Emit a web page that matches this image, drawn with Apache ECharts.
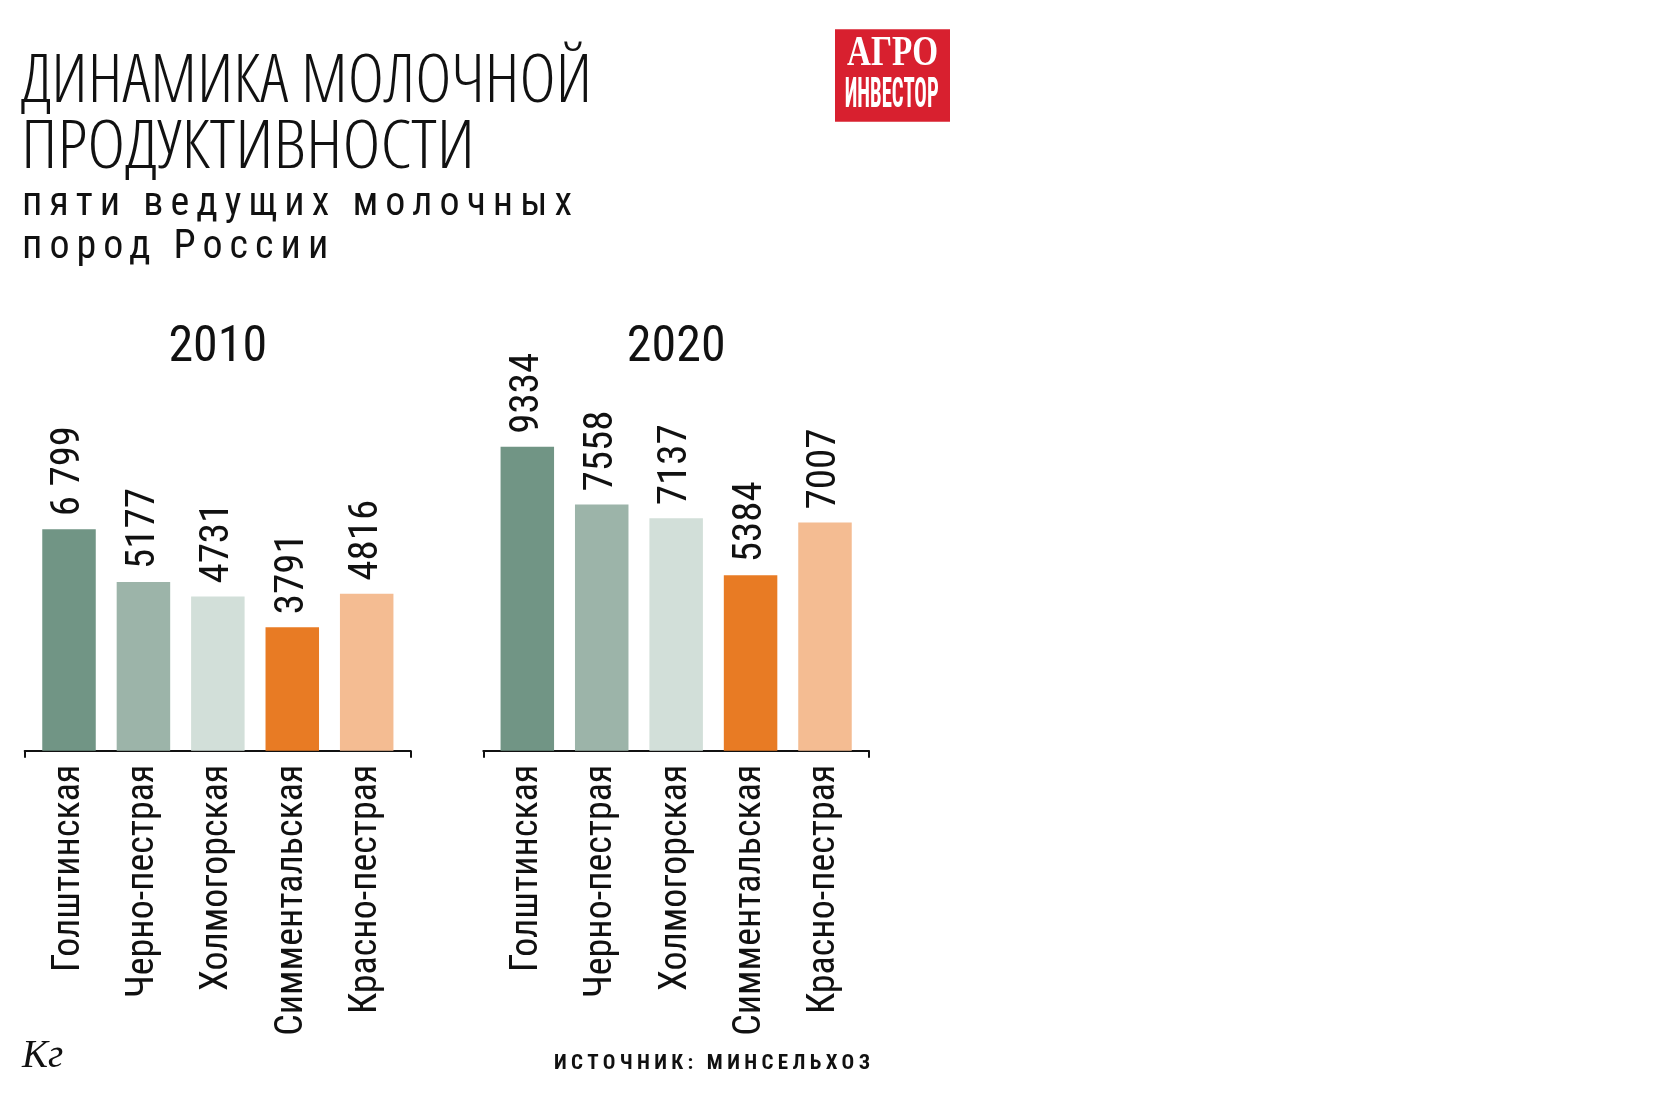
<!DOCTYPE html>
<html>
<head>
<meta charset="utf-8">
<script src="https://cdn.jsdelivr.net/npm/echarts@6/dist/echarts.min.js"></script>
<style>
  html, body { margin: 0; padding: 0; background: #ffffff; }
  #chart { width: 1674px; height: 1112px; }
</style>
</head>
<body>
<div id="chart"></div>
<script>
// ---- data ----
const categories = ['Голштинская', 'Черно-пестрая', 'Холмогорская', 'Симментальская', 'Красно-пестрая'];
const years = ['2010', '2020'];
const values2010 = [6799, 5177, 4731, 3791, 4816];
const values2020 = [9334, 7558, 7137, 5384, 7007];
const valueLabels2010 = ['6 799', '5177', '4731', '3791', '4816'];
const valueLabels2020 = ['9334', '7558', '7137', '5384', '7007'];
const barColors = ['#719585', '#9cb4a9', '#d2dfd9', '#e87b24', '#f4bc92'];

// ---- styles ----
const COND = "'Roboto Condensed', 'DejaVu Sans Condensed', sans-serif";
const INK = '#111111';

const mctx = document.createElement('canvas').getContext('2d');
function textWidth(text, font) { mctx.font = font; return mctx.measureText(text).width; }
function fitScale(text, font, target) { return target / textWidth(text, font); }

// letter-spaced texts (tracking), applied only while drawing those strings
const HAS_LS = ('letterSpacing' in CanvasRenderingContext2D.prototype);
const tracking = {};
function spacingFor(text, font, target) {
  return (target - textWidth(text, font)) / (Array.from(text).length - 1);
}
if (HAS_LS) {
  const origFill = CanvasRenderingContext2D.prototype.fillText;
  const refreshFont = (ctx) => { const f = ctx.font; ctx.font = '10px serif'; ctx.font = f; };
  CanvasRenderingContext2D.prototype.fillText = function (t, x, y, mw) {
    if (Object.prototype.hasOwnProperty.call(tracking, t)) {
      this.save();
      this.letterSpacing = tracking[t] + 'px';
      refreshFont(this);
      const r = mw === undefined ? origFill.call(this, t, x, y) : origFill.call(this, t, x, y, mw);
      this.restore();
      this.letterSpacing = '0px';
      refreshFont(this);
      return r;
    }
    return mw === undefined ? origFill.call(this, t, x, y) : origFill.call(this, t, x, y, mw);
  };
}

// ---- text fonts ----
const TITLE1 = 'ДИНАМИКА МОЛОЧНОЙ', TITLE2 = 'ПРОДУКТИВНОСТИ';
const SUB1 = 'пяти ведущих молочных', SUB2 = 'пород России';
const SRC = 'ИСТОЧНИК: МИНСЕЛЬХОЗ';
const TITLE_FONT = "condensed 300 66px 'Open Sans'";
const title1Scale = fitScale(TITLE1, TITLE_FONT, 571);
const title2Scale = fitScale(TITLE2, TITLE_FONT, 454);
const SUB_FONT = "normal 40px 'Roboto Condensed'";
const SRC_FONT = "bold 21px 'Roboto Condensed'";
let subScale = 1, srcScale = 1;
if (HAS_LS) {
  const s = spacingFor(SUB1, SUB_FONT, 550);
  tracking[SUB1] = s; tracking[SUB2] = s;
  tracking[SRC] = spacingFor(SRC, SRC_FONT, 316);
} else {
  subScale = fitScale(SUB1, SUB_FONT, 550);
  srcScale = fitScale(SRC, SRC_FONT, 316);
}
const YEAR_FONT = "normal 50px 'Roboto Condensed'";
const LOGO1_FONT = "bold 42px 'Liberation Serif'";
const logo1Scale = fitScale('АГРО', LOGO1_FONT, 91);
const LOGO2_FONT = "bold 43px 'Roboto Condensed'";
const logo2Scale = fitScale('ИНВЕСТОР', LOGO2_FONT, 94);
const UNIT_FONT = "italic 39px 'Liberation Serif'";

const chart = echarts.init(document.getElementById('chart'), null, { renderer: 'canvas' });

function barSeries(idx, values, labels) {
  return {
    type: 'bar',
    xAxisIndex: idx,
    yAxisIndex: idx,
    barWidth: 53.5,
    data: values.map((v, i) => ({ value: v, itemStyle: { color: barColors[i] } })),
    label: {
      show: true,
      position: 'top',
      distance: 13,
      rotate: 90,
      align: 'left',
      verticalAlign: 'middle',
      fontFamily: COND,
      fontSize: 41,
      color: INK,
      formatter: p => labels[p.dataIndex]
    },
    emphasis: { disabled: true },
    silent: true
  };
}

const catAxis = (gi) => ({
  type: 'category',
  gridIndex: gi,
  data: categories,
  axisLine: { show: false },
  axisTick: { show: false },
  axisLabel: {
    interval: 0,
    rotate: 90,
    margin: 14,
    fontFamily: COND,
    fontSize: 38,
    color: INK
  }
});
const valAxis = (gi) => ({ type: 'value', gridIndex: gi, min: 0, max: 10000, show: false });
const frameX = (gi) => ({
  type: 'value',
  gridIndex: gi,
  min: 0,
  max: 1,
  interval: 1,
  axisLine: { show: true, lineStyle: { color: '#111', width: 2 } },
  axisTick: { show: true, length: 7, lineStyle: { color: '#111', width: 2 } },
  axisLabel: { show: false },
  splitLine: { show: false }
});
const frameY = (gi) => ({ type: 'value', gridIndex: gi, min: 0, max: 1, show: false });

const option = {
  backgroundColor: '#ffffff',
  animation: false,
  grid: [
    { left: 31.8, width: 372.1, top: 425, height: 325.7 },
    { left: 490.1, width: 372.1, top: 425, height: 325.7 },
    { left: 24.7, width: 386, top: 700, height: 50.7 },
    { left: 483.3, width: 385.7, top: 700, height: 50.7 }
  ],
  xAxis: [catAxis(0), catAxis(1), frameX(2), frameX(3)],
  yAxis: [valAxis(0), valAxis(1), frameY(2), frameY(3)],
  series: [
    barSeries(0, values2010, valueLabels2010),
    barSeries(1, values2020, valueLabels2020)
  ],
  graphic: [
    // title
    { type: 'text', x: 21, y: 83.3, scaleX: title1Scale, silent: true,
      style: { text: TITLE1, font: TITLE_FONT, fill: INK, align: 'left', verticalAlign: 'middle' } },
    { type: 'text', x: 21, y: 149.5, scaleX: title2Scale, silent: true,
      style: { text: TITLE2, font: TITLE_FONT, fill: INK, align: 'left', verticalAlign: 'middle' } },
    // subtitle
    { type: 'text', x: 22, y: 205.3, scaleX: subScale, silent: true,
      style: { text: SUB1, font: SUB_FONT, fill: INK, align: 'left', verticalAlign: 'middle' } },
    { type: 'text', x: 22, y: 247.5, scaleX: subScale, silent: true,
      style: { text: SUB2, font: SUB_FONT, fill: INK, align: 'left', verticalAlign: 'middle' } },
    // year headers
    { type: 'text', x: 217.8, y: 348, silent: true,
      style: { text: years[0], font: YEAR_FONT, fill: INK, align: 'center', verticalAlign: 'middle' } },
    { type: 'text', x: 676.2, y: 348, silent: true,
      style: { text: years[1], font: YEAR_FONT, fill: INK, align: 'center', verticalAlign: 'middle' } },
    // logo
    { type: 'rect', silent: true, shape: { x: 835, y: 29.3, width: 115, height: 92.4 }, style: { fill: '#d8202f' } },
    { type: 'text', x: 892.5, y: 54.2, scaleX: logo1Scale, silent: true,
      style: { text: 'АГРО', font: LOGO1_FONT, fill: '#ffffff', align: 'center', verticalAlign: 'middle' } },
    { type: 'text', x: 891.7, y: 96, scaleX: logo2Scale, silent: true,
      style: { text: 'ИНВЕСТОР', font: LOGO2_FONT, fill: '#ffffff', align: 'center', verticalAlign: 'middle' } },
    // unit
    { type: 'text', x: 22, y: 1057, silent: true,
      style: { text: 'Кг', font: UNIT_FONT, fill: INK, align: 'left', verticalAlign: 'middle' } },
    // source
    HAS_LS
      ? { type: 'text', x: 554, y: 1063.8, silent: true,
          style: { text: SRC, font: SRC_FONT, fill: INK, align: 'left', verticalAlign: 'middle' } }
      : { type: 'text', x: 870, y: 1063.8, scaleX: srcScale, silent: true,
          style: { text: SRC, font: SRC_FONT, fill: INK, align: 'right', verticalAlign: 'middle' } }
  ]
};

chart.setOption(option);
</script>
</body>
</html>
